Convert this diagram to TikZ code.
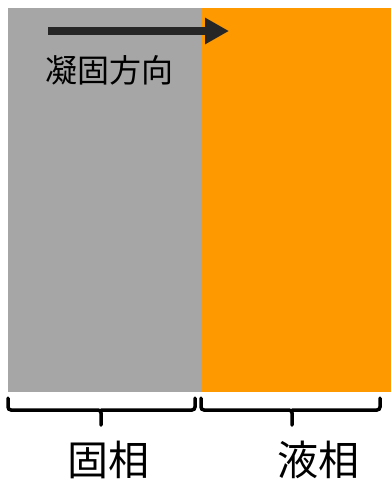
\documentclass[tikz,border=0pt]{standalone}
\usepackage{fontspec}
\newfontfamily\cjk{Noto Sans CJK JP}
\usetikzlibrary{arrows.meta}
\definecolor{solidgray}{HTML}{A6A6A6}
\definecolor{liqorange}{HTML}{FF9900}
\definecolor{arrowdark}{HTML}{262626}
\begin{document}
\begin{tikzpicture}[x=1pt,y=-1pt,
  phase/.style={draw=none,inner sep=0,minimum height=384pt,anchor=north west},
  bracepath/.style={draw=black,line width=3.5pt,rounded corners=3pt,line cap=round},
  label/.style={font=\cjk\fontsize{41}{41}\selectfont,inner sep=0},
  dirlabel/.style={font=\cjk\fontsize{32}{32}\selectfont,inner sep=0}]
\useasboundingbox (0,0) rectangle (391,479);
\node[phase,fill=solidgray,minimum width=193pt] (solid) at (8,8) {};
\node[phase,fill=liqorange,minimum width=190pt] (liquid) at (201,8) {};
\coordinate (astart) at (48,31);
\coordinate (aend) at (229,31);
\draw[line width=8.5pt,arrowdark,-{Triangle[length=24pt,width=25pt]}] (astart) -- (aend);
\node[dirlabel] (dir) at (109,70) {凝固方向};
% braces
\coordinate (b1a) at (8,398);
\coordinate (b1b) at (195,398);
\coordinate (b1t) at (101,425);
\draw[bracepath] (b1a) |- (101,410) -- (b1t);
\draw[bracepath] (101,410) -| (b1b);
\coordinate (b2a) at (201,398);
\coordinate (b2b) at (380,398);
\coordinate (b2t) at (292,425);
\draw[bracepath] (b2a) |- (292,410) -- (b2t);
\draw[bracepath] (292,410) -| (b2b);
\node[label] (slabel) at (108,460) {固相};
\node[label] (llabel) at (318,460) {液相};
\end{tikzpicture}
\end{document}
